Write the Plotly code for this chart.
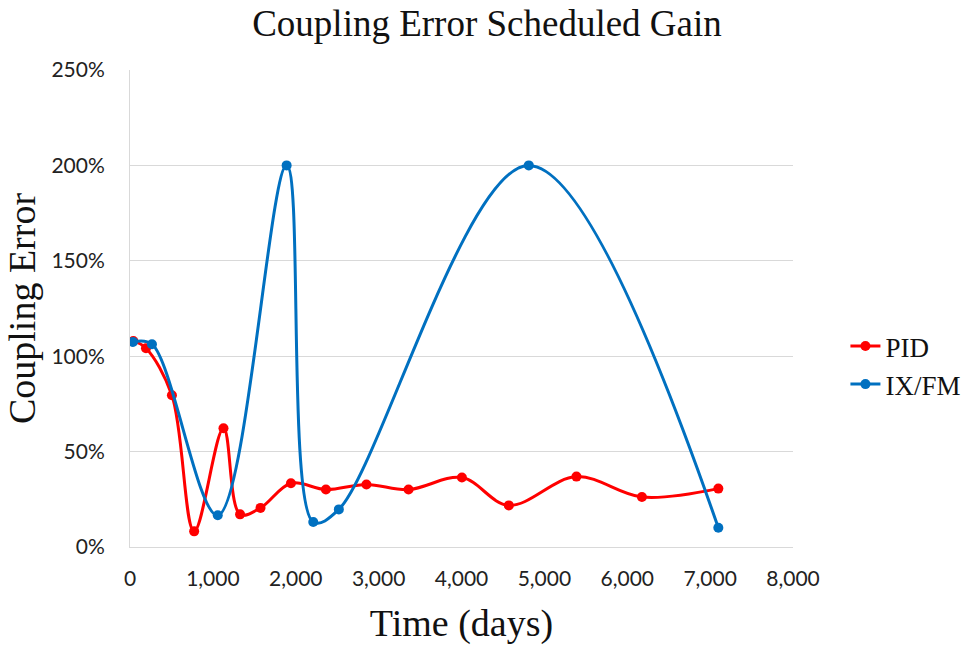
import plotly.graph_objects as go

# Coupling error over time for the two controllers (fraction, 1.0 = 100%)
pid_days = [40, 193, 506, 774, 1128, 1328, 1575, 1942, 2364, 2853, 3361, 4005, 4571, 5387, 6177, 7099]
pid_error = [1.08, 1.042, 0.795, 0.082, 0.622, 0.171, 0.205, 0.334, 0.301, 0.328, 0.301, 0.364, 0.218, 0.369, 0.262, 0.306]

ixfm_days = [36, 265, 1059, 1890, 2211, 2520, 4812, 7099]
ixfm_error = [1.075, 1.063, 0.166, 2.0, 0.131, 0.197, 2.0, 0.101]

x_ticks = [0, 1000, 2000, 3000, 4000, 5000, 6000, 7000, 8000]
y_ticks = [0, 0.5, 1.0, 1.5, 2.0, 2.5]

RED = "#FF0000"
BLUE = "#0070C0"
SERIF = "Liberation Serif, Times New Roman, serif"
SANS = "Lato, Open Sans, sans-serif"

fig = go.Figure()
fig.add_trace(go.Scatter(
    x=pid_days, y=pid_error, name="PID", mode="lines+markers",
    line=dict(color=RED, width=3, shape="spline", smoothing=1.0),
    marker=dict(color=RED, size=10),
))
fig.add_trace(go.Scatter(
    x=ixfm_days, y=ixfm_error, name="IX/FM", mode="lines+markers",
    line=dict(color=BLUE, width=3, shape="spline", smoothing=1.0),
    marker=dict(color=BLUE, size=10),
))

fig.update_layout(
    width=974, height=648,
    margin=dict(l=130, r=181, t=70, b=101, autoexpand=False),
    paper_bgcolor="white", plot_bgcolor="white",
    title=dict(text="Coupling Error Scheduled Gain", x=0.5, xanchor="center",
               y=0.965, yanchor="middle",
               font=dict(family=SERIF, size=37, color="#111111")),
    legend=dict(xref="container", yref="container", x=0.868, y=0.436,
                xanchor="left", yanchor="middle",
                font=dict(family=SERIF, size=27, color="#111111"),
                itemwidth=30, tracegroupgap=0, bgcolor="rgba(0,0,0,0)"),
    showlegend=True,
)

fig.update_xaxes(
    range=[0, 8000], tickvals=x_ticks, tickformat=",",
    showgrid=False, zeroline=False,
    showline=True, linecolor="#D9D9D9", linewidth=1,
    ticks="", ticklabelstandoff=13,
    tickfont=dict(family=SANS, size=21, color="#222222"),
    title=dict(text="Time (days)", standoff=20,
               font=dict(family=SERIF, size=38, color="#111111")),
)
fig.update_yaxes(
    range=[0, 2.5], tickvals=y_ticks, tickformat=".0%",
    showgrid=True, gridcolor="#D9D9D9", gridwidth=1, zeroline=False,
    showline=True, linecolor="#D9D9D9", linewidth=1,
    ticks="", ticklabelstandoff=20,
    tickfont=dict(family=SANS, size=21, color="#222222"),
    title=dict(text="Coupling Error", standoff=4,
               font=dict(family=SERIF, size=38, color="#111111")),
)

fig.write_html("out.html")
